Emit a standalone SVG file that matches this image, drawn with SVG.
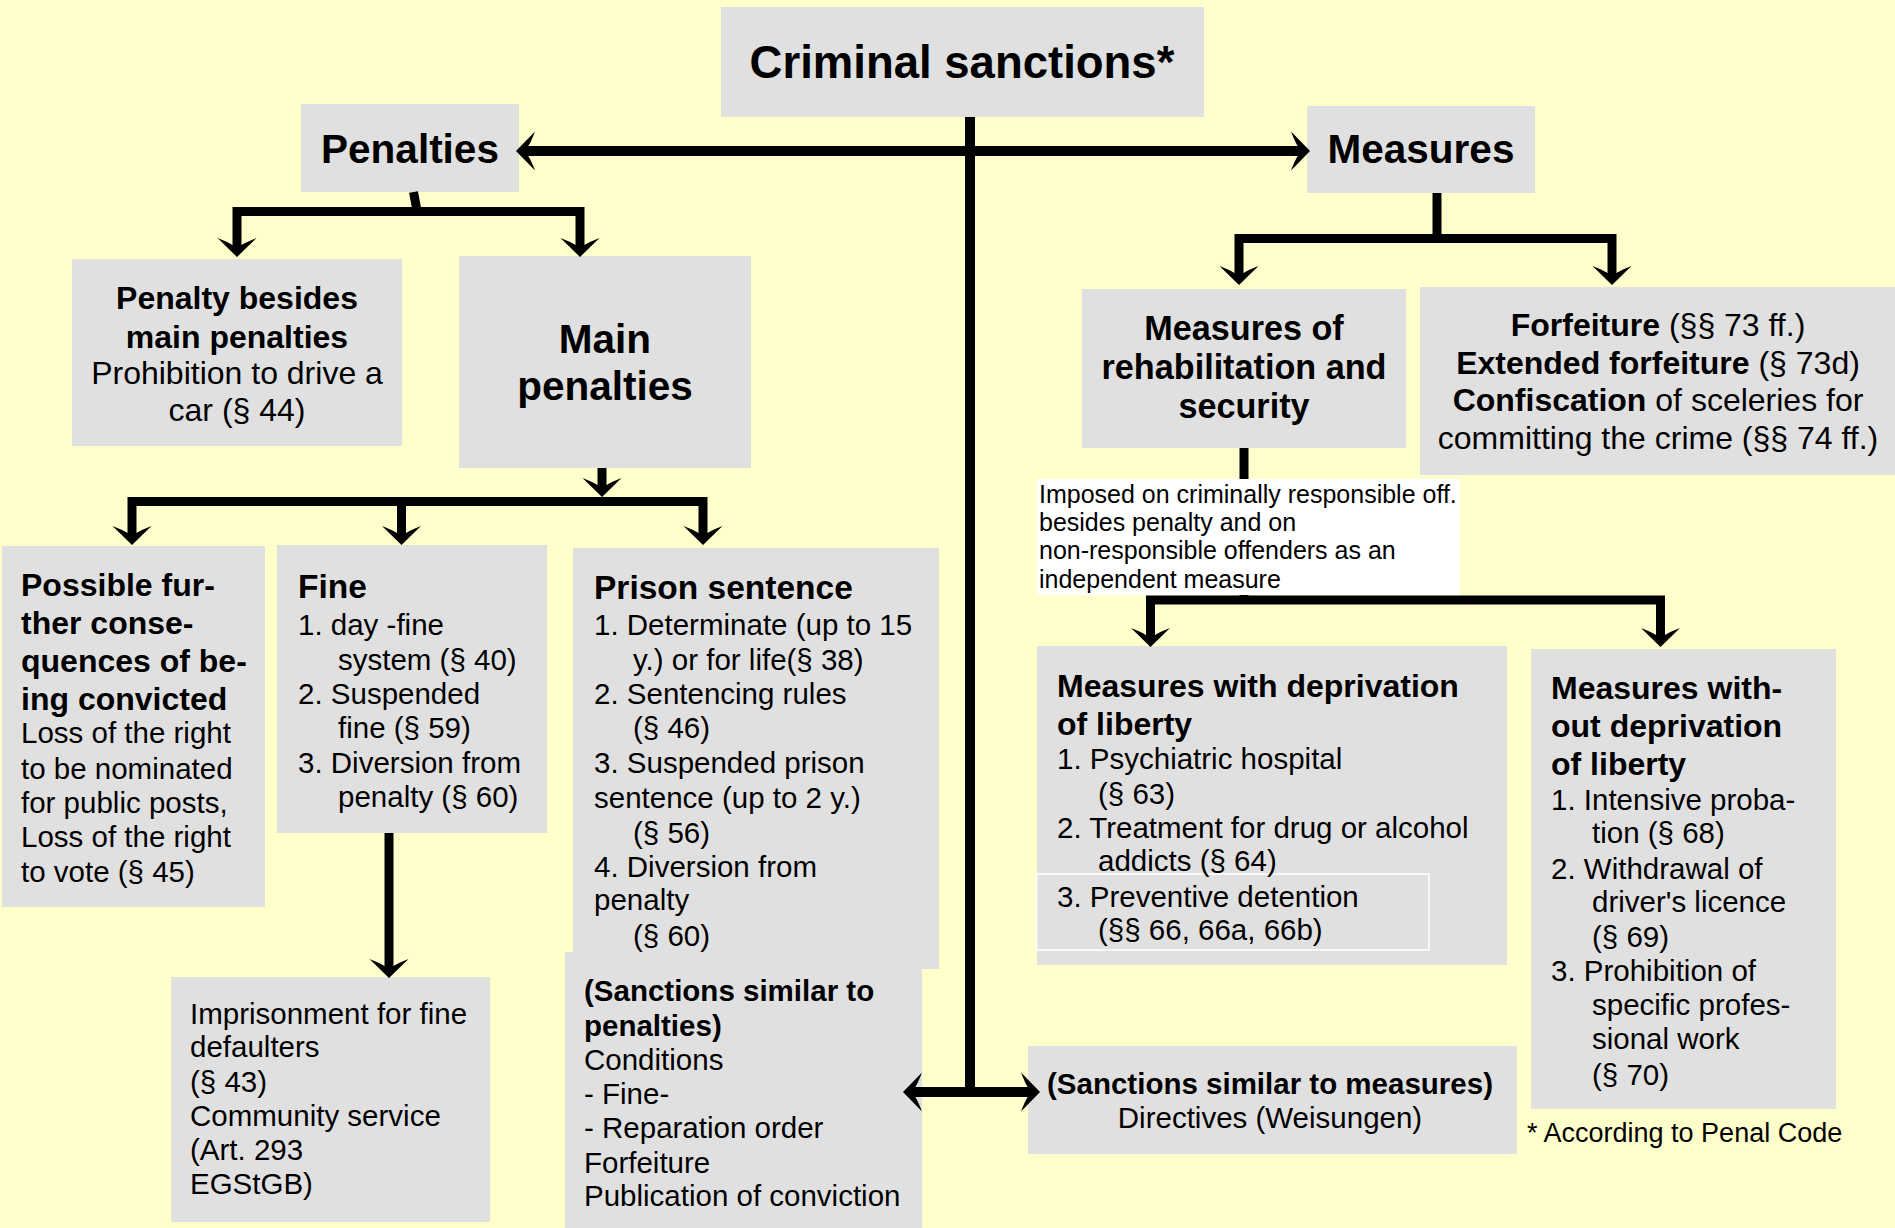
<svg xmlns="http://www.w3.org/2000/svg" xmlns:xlink="http://www.w3.org/1999/xlink" width="1895" height="1228" viewBox="0 0 1895 1228">
<style>
text{font-family:"Liberation Sans",Arial,Helvetica,sans-serif;fill:#000}
.box{fill:#E0E0E0}
.b{font-weight:bold}
.r{font-size:29.5px}
.rb{font-size:29.5px;font-weight:bold}
.b32{font-size:32px;font-weight:bold}
.r32{font-size:32px}
.t33{font-size:33.5px;font-weight:bold}
.big{font-size:40.5px;font-weight:bold}
.mid{text-anchor:middle}
.ln{fill:none;stroke:#000;stroke-width:9;stroke-linejoin:miter;stroke-linecap:butt}
.lnm{fill:none;stroke:#000;stroke-width:10;stroke-linecap:butt}
.ah{fill:#000}
</style>
<defs>
<path id="ah" class="ah" d="M0,0 L-19,-19.5 Q-15,-9 -12,-4.5 L-12,4.5 Q-15,9 -19,19.5 Z"/>
</defs>
<rect x="0" y="0" width="1895" height="1228" fill="#FFFFCC"/>

<g id="criminal-sanctions">
<rect class="box" x="721" y="7" width="483" height="110"/>
<text class="mid b" x="962" y="78" font-size="45.5">Criminal sanctions*</text>
</g>

<g id="penalties">
<rect class="box" x="301" y="104" width="218" height="88"/>
<text class="mid big" x="410" y="163">Penalties</text>
</g>

<g id="measures">
<rect class="box" x="1307" y="106" width="228" height="87"/>
<text class="mid big" x="1421" y="163">Measures</text>
</g>

<g id="penalty-besides">
<rect class="box" x="72" y="259" width="330" height="187"/>
<text class="mid b32" x="237" y="309">Penalty besides</text>
<text class="mid b32" x="237" y="348">main penalties</text>
<text class="mid r32" x="237" y="384">Prohibition to drive a</text>
<text class="mid r32" x="237" y="421">car (§ 44)</text>
</g>

<g id="main-penalties">
<rect class="box" x="459" y="256" width="292" height="212"/>
<text class="mid big" x="605" y="353">Main</text>
<text class="mid big" x="605" y="400">penalties</text>
</g>

<g id="rehabilitation">
<rect class="box" x="1082" y="289" width="324" height="159"/>
<text class="mid b" font-size="34.2" x="1244" y="340">Measures of</text>
<text class="mid b" font-size="34.2" x="1244" y="379">rehabilitation and</text>
<text class="mid b" font-size="34.2" x="1244" y="418">security</text>
</g>

<g id="forfeiture">
<rect class="box" x="1420" y="287" width="475" height="188"/>
<text class="mid r32" x="1658" y="336"><tspan font-weight="bold">Forfeiture</tspan> (§§ 73 ff.)</text>
<text class="mid r32" x="1658" y="374"><tspan font-weight="bold">Extended forfeiture</tspan> (§ 73d)</text>
<text class="mid r32" x="1658" y="411"><tspan font-weight="bold">Confiscation</tspan> of sceleries for</text>
<text class="mid r32" x="1658" y="449">committing the crime (§§ 74 ff.)</text>
</g>

<g id="further-consequences">
<rect class="box" x="2" y="546" width="263" height="361"/>
<text class="b32" x="21" y="596">Possible fur-</text>
<text class="b32" x="21" y="634">ther conse-</text>
<text class="b32" x="21" y="672">quences of be-</text>
<text class="b32" x="21" y="710">ing convicted</text>
<text class="r" x="21" y="743">Loss of the right</text>
<text class="r" x="21" y="779">to be nominated</text>
<text class="r" x="21" y="813">for public posts,</text>
<text class="r" x="21" y="847">Loss of the right</text>
<text class="r" x="21" y="882">to vote (§ 45)</text>
</g>

<g id="fine">
<rect class="box" x="277" y="545" width="270" height="288"/>
<text class="t33" x="298" y="597.5">Fine</text>
<text class="r" x="298" y="635">1. day -fine</text>
<text class="r" x="338" y="670">system (§ 40)</text>
<text class="r" x="298" y="704">2. Suspended</text>
<text class="r" x="338" y="738">fine (§ 59)</text>
<text class="r" x="298" y="773">3. Diversion from</text>
<text class="r" x="338" y="807">penalty (§ 60)</text>
</g>

<g id="prison-sentence">
<rect class="box" x="573" y="548" width="366" height="421"/>
<text class="t33" x="594" y="599">Prison sentence</text>
<text class="r" x="594" y="635">1. Determinate (up to 15</text>
<text class="r" x="633" y="670">y.) or for life(§ 38)</text>
<text class="r" x="594" y="704">2. Sentencing rules</text>
<text class="r" x="633" y="738">(§ 46)</text>
<text class="r" x="594" y="773">3. Suspended prison</text>
<text class="r" x="594" y="808">sentence (up to 2 y.)</text>
<text class="r" x="633" y="843">(§ 56)</text>
<text class="r" x="594" y="877">4. Diversion from</text>
<text class="r" x="594" y="910">penalty</text>
<text class="r" x="633" y="946">(§ 60)</text>
</g>

<g id="sanctions-similar-penalties">
<rect class="box" x="565" y="952" width="357" height="276"/>
<text class="rb" x="584" y="1001">(Sanctions similar to</text>
<text class="rb" x="584" y="1036">penalties)</text>
<text class="r" x="584" y="1070">Conditions</text>
<text class="r" x="584" y="1104">- Fine-</text>
<text class="r" x="584" y="1138">- Reparation order</text>
<text class="r" x="584" y="1173">Forfeiture</text>
<text class="r" x="584" y="1206">Publication of conviction</text>
</g>

<g id="imprisonment">
<rect class="box" x="171" y="977" width="319" height="245"/>
<text class="r" x="190" y="1024">Imprisonment for fine</text>
<text class="r" x="190" y="1057">defaulters</text>
<text class="r" x="190" y="1092">(§ 43)</text>
<text class="r" x="190" y="1126">Community service</text>
<text class="r" x="190" y="1160">(Art. 293</text>
<text class="r" x="190" y="1194">EGStGB)</text>
</g>

<g id="with-deprivation">
<rect class="box" x="1037" y="646" width="470" height="319"/>
<rect x="1036.5" y="874" width="392.5" height="76" fill="none" stroke="#FFFFFF" stroke-width="1.5"/>
<text class="b32" x="1057" y="697">Measures with deprivation</text>
<text class="b32" x="1057" y="735">of liberty</text>
<text class="r" x="1057" y="769">1. Psychiatric hospital</text>
<text class="r" x="1098" y="804">(§ 63)</text>
<text class="r" x="1057" y="838">2. Treatment for drug or alcohol</text>
<text class="r" x="1098" y="871">addicts (§ 64)</text>
<text class="r" x="1057" y="907">3. Preventive detention</text>
<text class="r" x="1098" y="940">(§§ 66, 66a, 66b)</text>
</g>

<g id="without-deprivation">
<rect class="box" x="1531" y="649" width="305" height="460"/>
<text class="b32" x="1551" y="699">Measures with-</text>
<text class="b32" x="1551" y="737">out deprivation</text>
<text class="b32" x="1551" y="775">of liberty</text>
<text class="r" x="1551" y="810">1. Intensive proba-</text>
<text class="r" x="1592" y="843">tion (§ 68)</text>
<text class="r" x="1551" y="879">2. Withdrawal of</text>
<text class="r" x="1592" y="912">driver's licence</text>
<text class="r" x="1592" y="947">(§ 69)</text>
<text class="r" x="1551" y="981">3. Prohibition of</text>
<text class="r" x="1592" y="1015">specific profes-</text>
<text class="r" x="1592" y="1049">sional work</text>
<text class="r" x="1592" y="1085">(§ 70)</text>
</g>

<g id="sanctions-similar-measures">
<rect class="box" x="1028" y="1046" width="489" height="108"/>
<text class="mid rb" x="1270" y="1094">(Sanctions similar to measures)</text>
<text class="mid r" x="1270" y="1128">Directives (Weisungen)</text>
</g>

<g id="footnote">
<text x="1527" y="1142" font-size="27">* According to Penal Code</text>
</g>

<g id="connectors">
<path class="lnm" d="M970,117 V1097"/>
<path class="lnm" d="M528,151 H1298"/>
<use xlink:href="#ah" transform="translate(516,151) rotate(180)"/>
<use xlink:href="#ah" transform="translate(1310,151)"/>
<path class="lnm" d="M915,1092 H1028"/>
<use xlink:href="#ah" transform="translate(903,1092) rotate(180)"/>
<use xlink:href="#ah" transform="translate(1040,1092)"/>

<path class="ln" d="M413.5,192 L416.5,208"/>
<path class="ln" d="M237,245 V211.5 H580 V245"/>
<use xlink:href="#ah" transform="translate(237,257) rotate(90)"/>
<use xlink:href="#ah" transform="translate(580,257) rotate(90)"/>

<path class="ln" d="M1437,193 V238.5"/>
<path class="ln" d="M1239,273 V238.5 H1612 V273"/>
<use xlink:href="#ah" transform="translate(1239,285) rotate(90)"/>
<use xlink:href="#ah" transform="translate(1612,285) rotate(90)"/>

<path class="ln" d="M602,468 V486"/>
<use xlink:href="#ah" transform="translate(602,497) rotate(90)"/>
<path class="ln" d="M132,533 V501.5 H703 V533"/>
<path class="ln" d="M401.5,501.5 V533"/>
<use xlink:href="#ah" transform="translate(132,545) rotate(90)"/>
<use xlink:href="#ah" transform="translate(401.5,545) rotate(90)"/>
<use xlink:href="#ah" transform="translate(703,545) rotate(90)"/>

<path class="ln" d="M389,833 V966"/>
<use xlink:href="#ah" transform="translate(389,978) rotate(90)"/>

<path class="ln" d="M1244,448 V600"/>
<path class="ln" d="M1150.5,635 V600 H1660.5 V635"/>
<use xlink:href="#ah" transform="translate(1150.5,647) rotate(90)"/>
<use xlink:href="#ah" transform="translate(1660.5,647) rotate(90)"/>
</g>

<g id="note">
<rect x="1037" y="479" width="423" height="116" fill="#FFFFFF"/>
<text x="1039" y="503" font-size="25">Imposed on criminally responsible off.</text>
<text x="1039" y="531" font-size="25">besides penalty and on</text>
<text x="1039" y="559" font-size="25">non-responsible offenders as an</text>
<text x="1039" y="588" font-size="25">independent measure</text>
</g>
</svg>
